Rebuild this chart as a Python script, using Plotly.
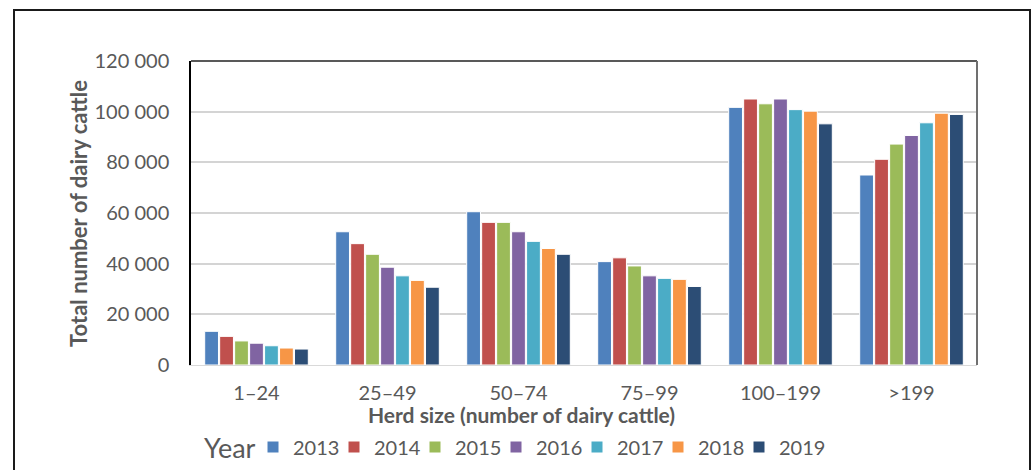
import plotly.graph_objects as go

categories = ["1–24", "25–49", "50–74", "75–99", "100–199", ">199"]
years = ["2013", "2014", "2015", "2016", "2017", "2018", "2019"]
values = {
    "2013": [13300, 52600, 60500, 40800, 101700, 75000],
    "2014": [11300, 47900, 56300, 42300, 105000, 81200],
    "2015": [9500, 43700, 56300, 39100, 103100, 87200],
    "2016": [8600, 38600, 52600, 35200, 105000, 90600],
    "2017": [7600, 35200, 48800, 34200, 100800, 95600],
    "2018": [6700, 33400, 46000, 33800, 100200, 99400],
    "2019": [6300, 30700, 43700, 31000, 95200, 98900],
}
colors = ["#4F81BD", "#C0504D", "#9BBB59", "#8064A2", "#4BACC6", "#F79646", "#2C4D75"]
y_ticks = [0, 20000, 40000, 60000, 80000, 100000, 120000]

FONT = "Lato"
GREY = "#595959"

W, H = 1032, 470
L, R, T, B = 191, 977, 61, 365


def px_x(x):
    return (x - L) / (R - L)


def px_y(y):
    return (B - y) / (B - T)


fig = go.Figure()
for yr, col in zip(years, colors):
    fig.add_trace(go.Bar(
        x=categories, y=values[yr], name=yr,
        marker=dict(color=col, line=dict(color="white", width=1)),
    ))
# empty spacer entry so the last legend label is not clipped
fig.add_trace(go.Scatter(
    x=[None], y=[None], name="\u00a0", mode="markers",
    marker=dict(color="rgba(0,0,0,0)"), hoverinfo="skip",
))

fig.update_layout(
    width=W, height=H,
    margin=dict(l=L, r=W - R, t=T, b=H - B, pad=0, autoexpand=False),
    paper_bgcolor="white", plot_bgcolor="white",
    barmode="group", bargap=0.2, bargroupgap=0.08,
    separators=". ",
    font=dict(family=FONT, color=GREY, size=20),
    showlegend=True,
    legend=dict(
        orientation="h", x=px_x(253), xanchor="left", y=px_y(447), yanchor="middle",
        font=dict(size=20, color=GREY, family=FONT),
        itemwidth=30, tracegroupgap=0,
        entrywidth=36, entrywidthmode="pixels",
        bgcolor="rgba(0,0,0,0)",
    ),
    xaxis=dict(
        showgrid=False, showline=True, linecolor="#d9d9d9", linewidth=1,
        ticks="", tickfont=dict(size=20, color=GREY, family=FONT),
        ticklabelstandoff=10, fixedrange=True, automargin=False,
    ),
    yaxis=dict(
        range=[0, 120000], tickvals=y_ticks, tickformat=",d",
        showgrid=True, gridcolor="#d4d4d4", gridwidth=1.5,
        showline=True, linecolor="black", linewidth=1.5,
        zeroline=False, ticks="", automargin=False,
        tickfont=dict(size=20, color=GREY, family=FONT),
        ticklabelstandoff=16,
    ),
    annotations=[
        dict(text="<b>Total number of dairy cattle</b>", xref="paper", yref="paper",
             x=px_x(78), y=px_y(214), textangle=-90, showarrow=False,
             xanchor="center", yanchor="middle",
             font=dict(size=22, color=GREY, family=FONT)),
        dict(text="<b>Herd size (number of dairy cattle)</b>", xref="paper", yref="paper",
             x=px_x(521), y=px_y(414), showarrow=False,
             xanchor="center", yanchor="middle",
             font=dict(size=21, color=GREY, family=FONT)),
        dict(text="Year", xref="paper", yref="paper",
             x=px_x(202), y=px_y(447), showarrow=False,
             xanchor="left", yanchor="middle",
             font=dict(size=27, color=GREY, family=FONT)),
    ],
    shapes=[
        dict(type="line", xref="paper", yref="paper", x0=0, x1=1, y0=1, y1=1,
             line=dict(color="#222222", width=1.5)),
        dict(type="line", xref="paper", yref="paper", x0=1, x1=1, y0=0, y1=1,
             line=dict(color="#707070", width=2)),
        dict(type="rect", xref="paper", yref="paper",
             x0=px_x(14), x1=px_x(1030), y0=px_y(490), y1=px_y(10),
             line=dict(color="#1a1a1a", width=2)),
    ],
)

fig.write_html(
    "out.html",
    config={"displayModeBar": False},
    post_script="document.body.style.margin='0';document.body.style.overflow='hidden';",
)
